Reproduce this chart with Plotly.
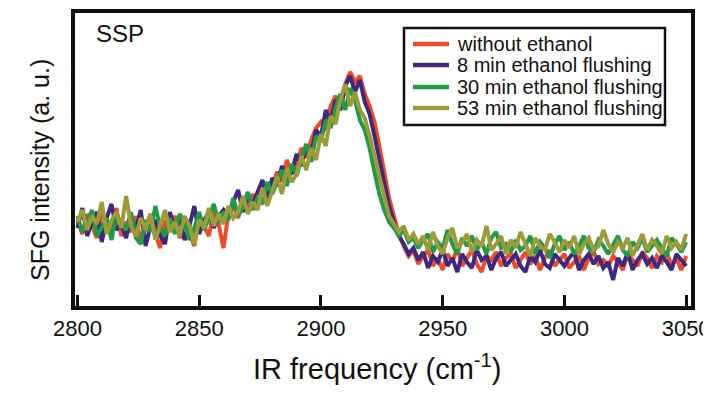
import plotly.graph_objects as go

start_freq = 2800  # cm-1
freq_step = 2      # cm-1 between samples

without_ethanol = [
    86, 72, 92, 80, 68, 94, 82, 76, 98, 70,
    84, 74, 90, 64, 78, 92, 72, 58, 86, 80,
    90, 68, 82, 74, 60, 88, 80, 70, 96, 82,
    58, 92, 100, 88, 106, 94, 112, 100, 110, 122,
    120, 134, 124, 146, 132, 140, 158, 148, 166, 178,
    184, 176, 200, 210, 198, 222, 234, 224, 230, 212,
    200, 184, 160, 134, 108, 90, 72, 60, 50, 56,
    42, 50, 56, 40, 48, 36, 52, 44, 58, 40,
    48, 56, 42, 34, 50, 46, 54, 40, 48, 52,
    38, 46, 54, 42, 50, 36, 48, 56, 40, 46,
    52, 38, 44, 50, 36, 48, 54, 42, 46, 40,
    50, 44, 36, 52, 46, 40, 54, 48, 38, 50,
    44, 54, 40, 48, 36, 50,
]

flush_8min = [
    78, 98, 70, 84, 94, 64, 88, 102, 76, 82,
    68, 90, 76, 96, 60, 80, 86, 70, 62, 94,
    76, 88, 66, 80, 100, 72, 86, 94, 78, 90,
    96, 88, 104, 116, 94, 108, 102, 114, 126, 106,
    128, 120, 140, 126, 134, 152, 140, 160, 152, 176,
    170, 196, 184, 206, 196, 220, 230, 214, 226, 204,
    192, 170, 148, 122, 100, 84, 70, 62, 52, 58,
    46, 54, 38, 50, 44, 56, 40, 48, 34, 52,
    44, 38, 56, 46, 50, 36, 48, 54, 40, 46,
    52, 40, 34, 50, 44, 56, 42, 38, 52, 46,
    40, 48, 54, 36, 46, 52, 42, 50, 38, 44,
    26, 48, 40, 54, 36, 46, 52, 42, 48, 38,
    50, 44, 36, 52, 46, 40,
]

flush_30min = [
    90, 74, 84, 96, 70, 80, 88, 66, 92, 82,
    76, 94, 68, 62, 86, 74, 100, 78, 70, 88,
    72, 92, 84, 66, 78, 94, 76, 88, 102, 84,
    94, 86, 108, 90, 100, 114, 96, 108, 102, 124,
    112, 124, 136, 120, 142, 130, 148, 162, 144, 170,
    164, 186, 178, 198, 212, 196, 218, 206, 186, 176,
    158, 134, 112, 96, 84, 78, 70, 76, 64, 68,
    58, 66, 72, 54, 64, 58, 76, 62, 52, 68,
    60, 70, 56, 64, 52, 68, 74, 58, 62, 54,
    66, 56, 60, 70, 52, 64, 58, 48, 62, 70,
    56, 64, 52, 60, 70, 58, 54, 66, 60, 52,
    62, 70, 56, 50, 64, 58, 68, 54, 60, 66,
    58, 50, 68, 62, 54, 64,
]

flush_53min = [
    84, 96, 76, 90, 82, 104, 72, 86, 94, 78,
    110, 80, 70, 88, 76, 92, 66, 82, 96, 74,
    84, 70, 90, 80, 62, 86, 78, 98, 80, 92,
    82, 100, 88, 94, 110, 92, 104, 96, 118, 100,
    116, 130, 112, 138, 124, 132, 150, 136, 158, 146,
    172, 160, 190, 182, 206, 222, 200, 214, 196, 188,
    170, 150, 126, 108, 90, 82, 74, 80, 66, 72,
    62, 70, 56, 74, 60, 52, 68, 78, 58, 64,
    72, 54, 66, 60, 80, 56, 62, 70, 52, 66,
    58, 74, 62, 50, 68, 60, 56, 72, 64, 54,
    66, 58, 70, 52, 62, 68, 56, 60, 76, 62,
    54, 64, 58, 68, 50, 62, 72, 56, 66, 60,
    52, 70, 58, 64, 56, 72,
]

series_names = ["without ethanol", "8 min ethanol flushing",
                "30 min ethanol flushing", "53 min ethanol flushing"]
series_values = [without_ethanol, flush_8min, flush_30min, flush_53min]
series_colors = ["#F04A2A", "#40287E", "#1E9B48", "#9B9B37"]
tick_values = [2800, 2850, 2900, 2950, 3000, 3050]

FONT = "Liberation Sans, Arial, sans-serif"
INK = "#111"

# page is shown with an 8 px body margin, so the figure is drawn 8 px smaller
W, H = 703, 386
M_L, M_R, M_T, M_B = 67, 20, 5, 88
PLOT_W = W - M_L - M_R
PLOT_H = H - M_T - M_B
OFF = 8


def px(x):  # page pixel x -> paper x
    return (x - OFF - M_L) / PLOT_W


def py(y):  # page pixel y -> paper y
    return (H - M_B - (y - OFF)) / PLOT_H


fig = go.Figure()
for name, vals, col in zip(series_names, series_values, series_colors):
    xs = [start_freq + freq_step * i for i in range(len(vals))]
    fig.add_trace(go.Scatter(x=xs, y=vals, mode="lines", name=name,
                             line=dict(color=col, width=4), showlegend=False))

shapes = []
annotations = []
# legend box
shapes.append(dict(type="rect", xref="paper", yref="paper",
                   x0=px(404), x1=px(665), y0=py(125), y1=py(28),
                   line=dict(color=INK, width=2.5), fillcolor="white", layer="above"))
row_y = [44, 65, 87, 108]
for name, col, ry in zip(series_names, series_colors, row_y):
    shapes.append(dict(type="line", xref="paper", yref="paper",
                       x0=px(413), x1=px(449), y0=py(ry), y1=py(ry),
                       line=dict(color=col, width=4.5), layer="above"))
    annotations.append(dict(text=name, x=px(455), y=py(ry), xref="paper", yref="paper",
                            xanchor="left", yanchor="middle", showarrow=False,
                            font=dict(size=20, family=FONT, color=INK)))

annotations.append(dict(text="SSP", x=px(94), y=py(33), xref="paper", yref="paper",
                        xanchor="left", yanchor="middle", showarrow=False,
                        font=dict(size=24, family=FONT, color=INK)))
annotations.append(dict(text="SFG intensity (a. u.)", x=px(40), y=py(170),
                        xref="paper", yref="paper", textangle=-90,
                        xanchor="center", yanchor="middle", showarrow=False,
                        font=dict(size=25, family=FONT, color=INK)))
annotations.append(dict(text="IR frequency (cm<sup>-1</sup>)", x=px(377), y=py(367),
                        xref="paper", yref="paper",
                        xanchor="center", yanchor="middle", showarrow=False,
                        font=dict(size=29, family=FONT, color=INK)))

fig.update_layout(
    width=W, height=H,
    margin=dict(l=M_L, r=M_R, t=M_T, b=M_B),
    plot_bgcolor="white", paper_bgcolor="white",
    font=dict(family=FONT, color=INK),
    showlegend=False,
    shapes=shapes,
    annotations=annotations,
)
fig.update_xaxes(range=[2799, 3052], tickvals=tick_values, automargin=False,
                 ticks="inside", ticklen=11, tickwidth=3, tickcolor=INK,
                 showline=True, linewidth=3.5, linecolor=INK, mirror=True,
                 showgrid=False, zeroline=False,
                 tickfont=dict(size=22, family=FONT, color=INK))
fig.update_yaxes(range=[0, 293], showticklabels=False, ticks="", automargin=False,
                 showline=True, linewidth=3.5, linecolor=INK, mirror=True,
                 showgrid=False, zeroline=False)

fig.write_html("out.html")
